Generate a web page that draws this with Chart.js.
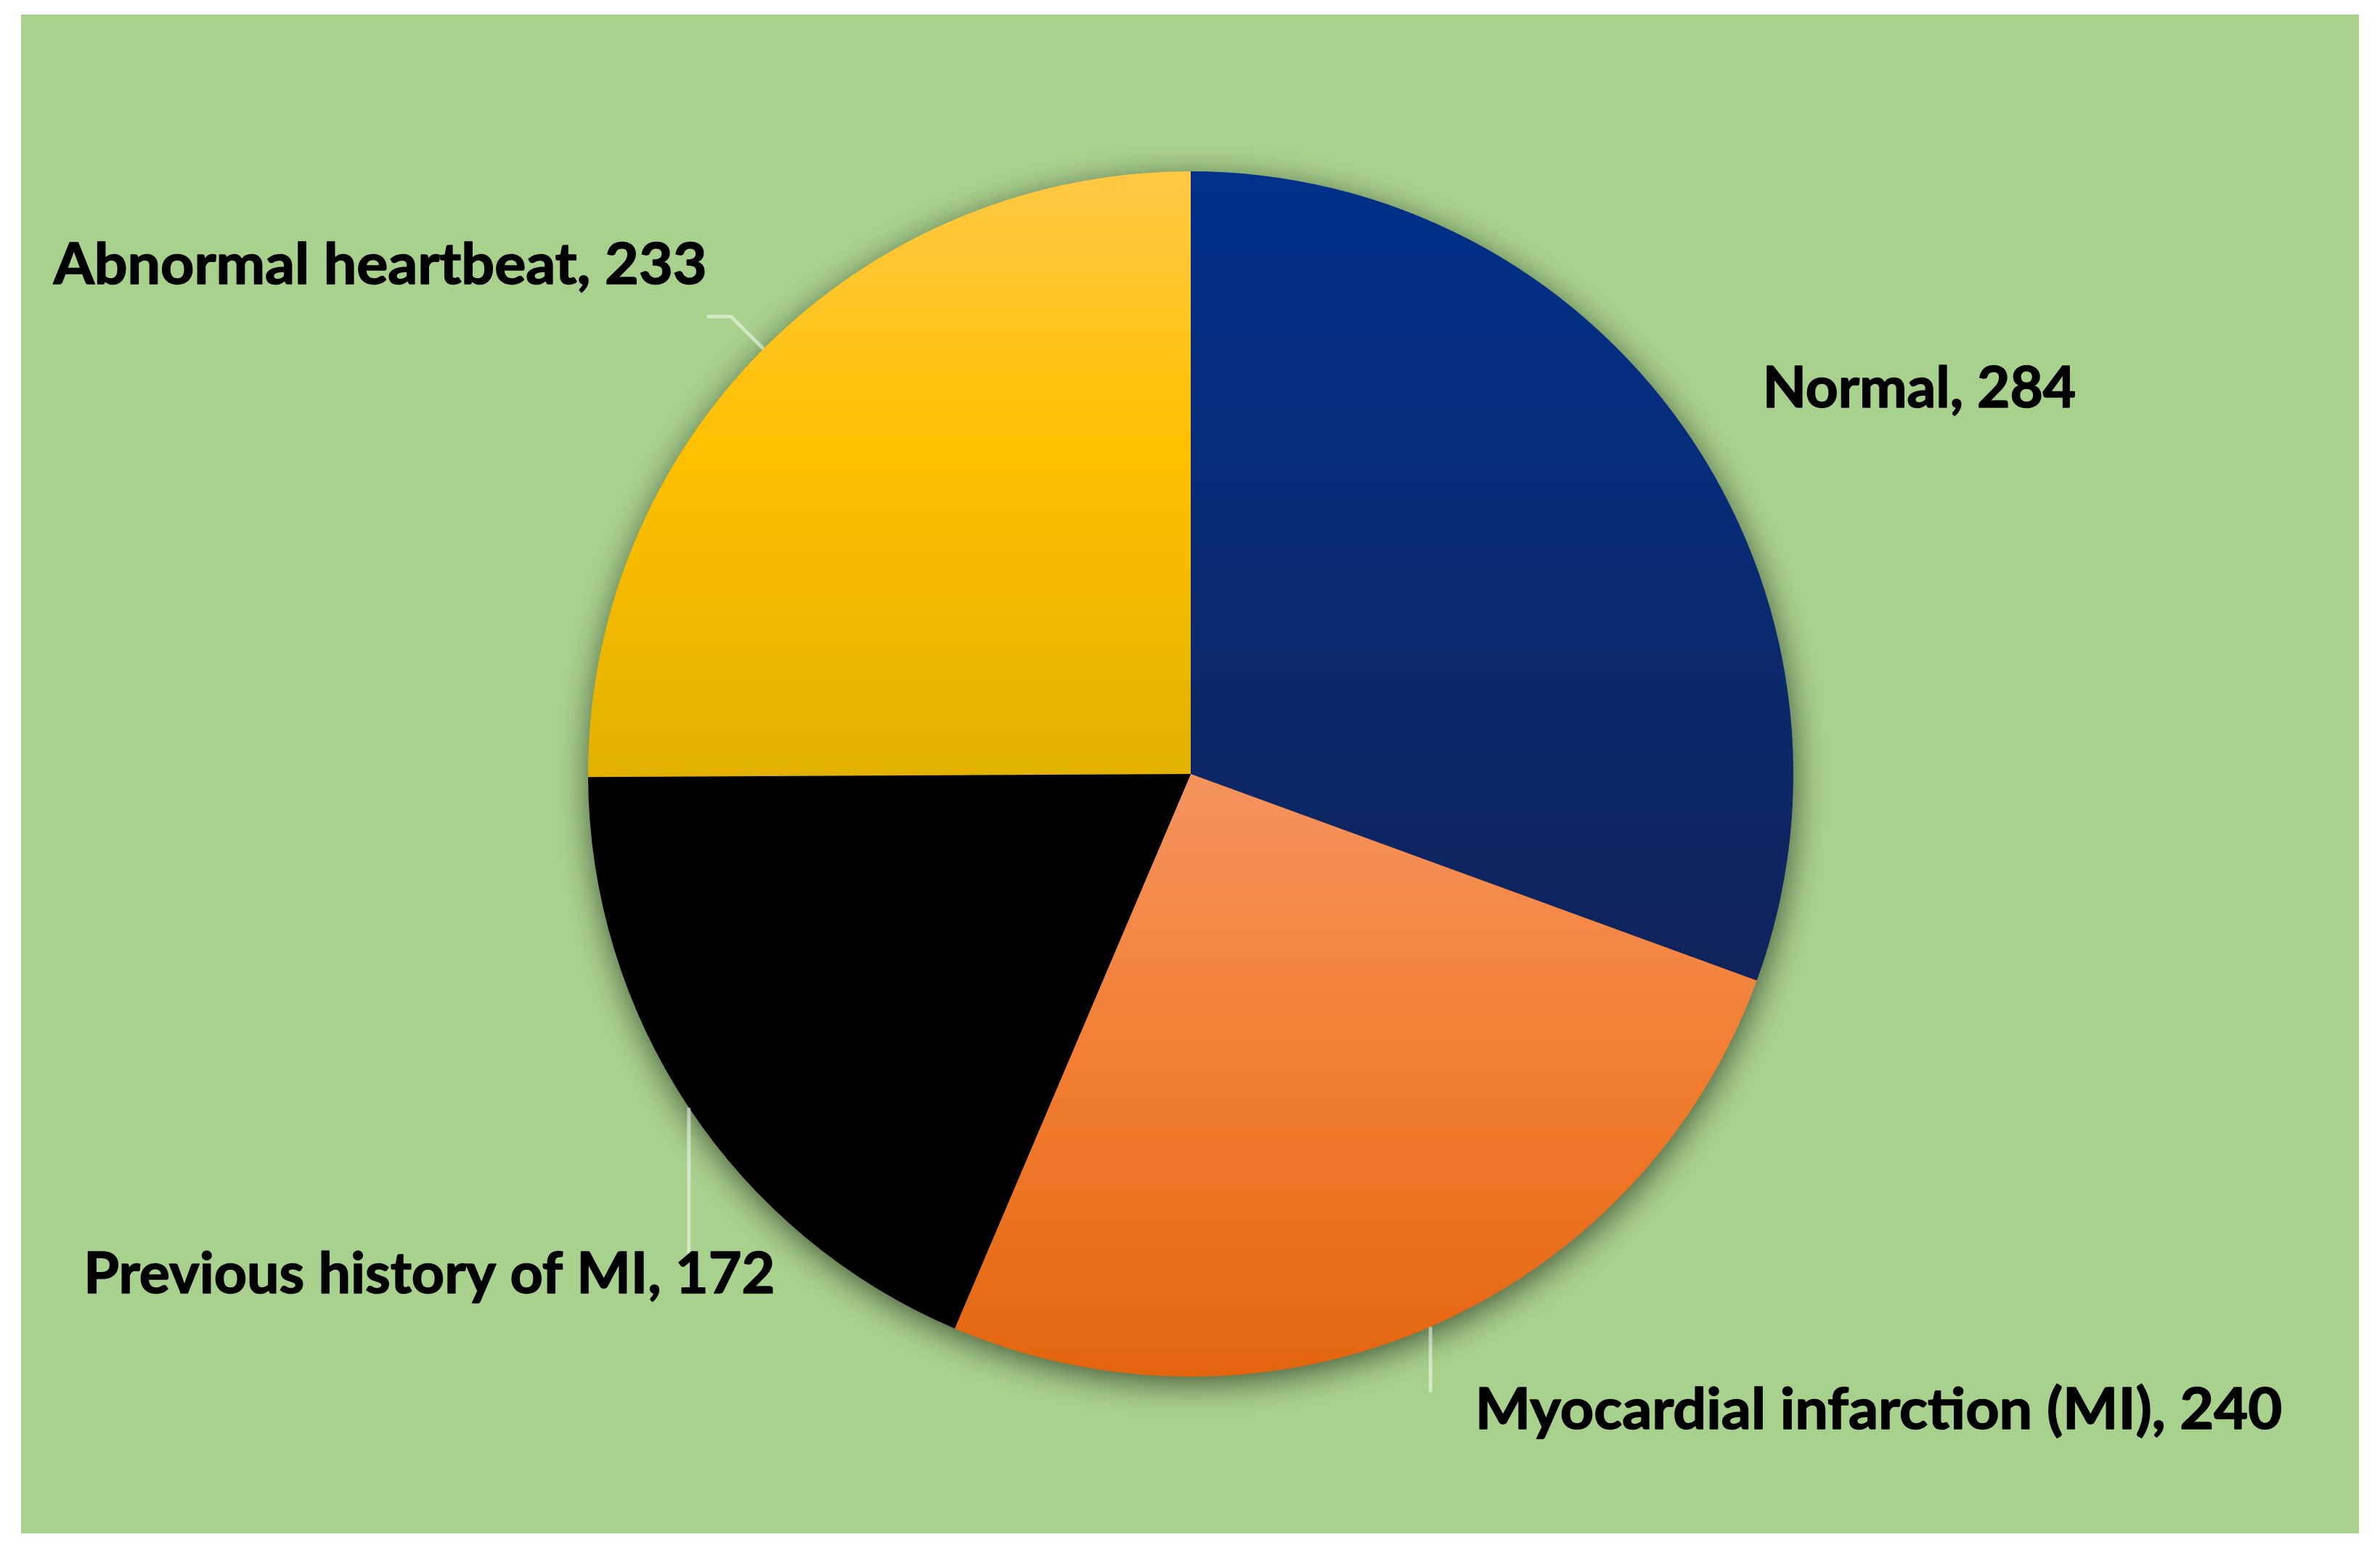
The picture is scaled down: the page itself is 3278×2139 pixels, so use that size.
<!DOCTYPE html>
<html><head><meta charset="utf-8">
<script src="https://cdn.jsdelivr.net/npm/chart.js@4.4.1/dist/chart.umd.min.js"></script>
<style>html,body{margin:0;padding:0;background:#fff;}#wrap{width:3278px;height:2139px;position:relative;}</style>
</head><body><div id="wrap"><canvas id="c"></canvas></div>
<script>
// ---- data ----
const categories = ['Normal', 'Myocardial infarction (MI)', 'Previous history of MI', 'Abnormal heartbeat'];
const values = [284, 240, 172, 233];
const labelTexts = categories.map((c, i) => c + ', ' + values[i]);

// ---- styles ----
const gradientStops = [
  [[0, '#00308A'], [0.5, '#0A2A72'], [1, '#10235A']],
  [[0, '#F4935E'], [0.5, '#F27D30'], [1, '#E3650E']],
  [[0, '#000000'], [1, '#000000']],
  [[0, '#FFC845'], [0.45, '#FFC000'], [1, '#E2B100']]
];
// label placement relative to pie centre, in units of the pie radius
const labelLayout = [
  {dx: 0.949, dy: -0.608, w: 0.520, leader: null},
  {dx: 0.472, dy: 1.087, w: 1.339, leader: 'down'},
  {dx: -1.837, dy: 0.861, w: 1.147, leader: 'down'},
  {dx: -1.887, dy: -0.813, w: 1.084, leader: 'elbow'}
];
const FONT = 'bold 78px Lato';

function sliceGradient(ctx) {
  const chart = ctx.chart, area = chart.chartArea;
  const i = ctx.dataIndex;
  if (!area) return gradientStops[i][0][1];
  const cx = (area.left + area.right) / 2, cy = (area.top + area.bottom) / 2;
  const r = Math.min(area.right - area.left, area.bottom - area.top) / 2;
  const total = values.reduce((a, b) => a + b, 0);
  let a0 = -Math.PI / 2;
  for (let k = 0; k < i; k++) a0 += values[k] / total * 2 * Math.PI;
  const a1 = a0 + values[i] / total * 2 * Math.PI;
  const ys = [cy, cy + r * Math.sin(a0), cy + r * Math.sin(a1)];
  [-Math.PI / 2, Math.PI / 2, 3 * Math.PI / 2].forEach(t => { if (a0 <= t + 1e-9 && t <= a1 + 1e-9) ys.push(cy + r * Math.sin(t)); });
  const ymin = Math.min(...ys), ymax = Math.max(...ys);
  const g = chart.ctx.createLinearGradient(0, ymin, 0, ymax);
  gradientStops[i].forEach(s => g.addColorStop(s[0], s[1]));
  return g;
}

const pieDecor = {
  id: 'pieDecor',
  beforeDraw(chart) {
    const ctx = chart.ctx;
    ctx.save();
    ctx.fillStyle = '#ffffff';
    ctx.fillRect(0, 0, chart.width, chart.height);
    ctx.fillStyle = '#A9D18E';
    ctx.fillRect(29, 20, 3220, 2092);
    ctx.restore();
  },
  beforeDatasetsDraw(chart) {
    const ctx = chart.ctx;
    const arc = chart.getDatasetMeta(0).data[0];
    ctx.save();
    ctx.shadowColor = 'rgba(0,0,0,0.6)';
    ctx.shadowBlur = 45;
    ctx.shadowOffsetX = 2;
    ctx.shadowOffsetY = 10;
    ctx.fillStyle = '#1a1a1a';
    ctx.beginPath();
    ctx.arc(arc.x, arc.y, arc.outerRadius - 1, 0, 2 * Math.PI);
    ctx.fill();
    ctx.restore();
  },
  afterDatasetsDraw(chart) {
    const ctx = chart.ctx;
    const arcs = chart.getDatasetMeta(0).data;
    ctx.save();
    ctx.font = FONT;
    ctx.textAlign = 'left';
    ctx.textBaseline = 'alphabetic';
    arcs.forEach((arc, i) => {
      const L = labelLayout[i];
      const r = arc.outerRadius, cx = arc.x, cy = arc.y;
      const lx = cx + L.dx * r, ly = cy + L.dy * r, tw = L.w * r;
      const mid = (arc.startAngle + arc.endAngle) / 2;
      const ex = cx + r * Math.cos(mid), ey = cy + r * Math.sin(mid);
      ctx.strokeStyle = 'rgba(255,255,255,0.5)';
      ctx.lineWidth = 5;
      if (L.leader === 'down') {
        ctx.beginPath();
        ctx.moveTo(ex, ey);
        ctx.lineTo(ex, ly - 0.061 * r);
        ctx.stroke();
      } else if (L.leader === 'elbow') {
        const bx = cx + 1.076 * r * Math.cos(mid), by = cy + 1.076 * r * Math.sin(mid);
        ctx.beginPath();
        ctx.moveTo(ex, ey);
        ctx.lineTo(bx, by);
        ctx.lineTo(lx + tw, by);
        ctx.stroke();
      }
      const m = ctx.measureText(labelTexts[i]).width;
      ctx.save();
      ctx.translate(lx, ly);
      ctx.scale(tw / m, 1);
      ctx.fillStyle = '#000000';
      ctx.strokeStyle = '#000000';
      ctx.lineWidth = 1.6;
      ctx.lineJoin = 'round';
      ctx.fillText(labelTexts[i], 0, 0);
      ctx.strokeText(labelTexts[i], 0, 0);
      ctx.restore();
    });
    ctx.restore();
  }
};

new Chart(document.getElementById('c'), {
  type: 'pie',
  data: {
    labels: categories,
    datasets: [{
      data: values,
      backgroundColor: sliceGradient,
      borderWidth: 0,
      hoverOffset: 0
    }]
  },
  options: {
    responsive: true,
    maintainAspectRatio: false,
    animation: false,
    events: [],
    layout: {padding: {top: 236, bottom: 243, left: 2, right: 0}},
    plugins: {legend: {display: false}, tooltip: {enabled: false}}
  },
  plugins: [pieDecor]
});
</script>
</body></html>
